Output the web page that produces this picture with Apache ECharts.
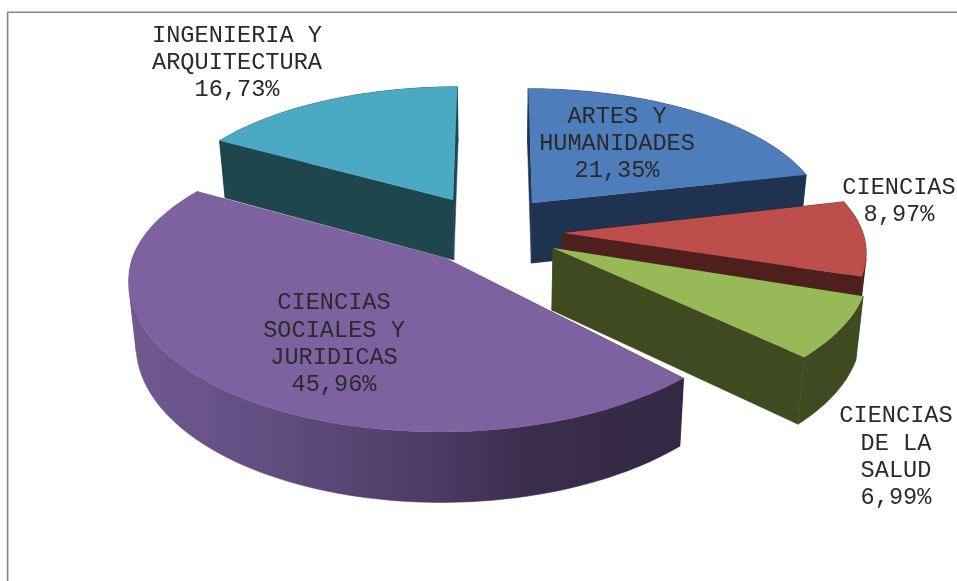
<!DOCTYPE html>
<html>
<head>
<meta charset="utf-8">
<style>html,body{margin:0;padding:0;background:#fff}#c{width:957px;height:581px}</style>
<script src="https://cdn.jsdelivr.net/npm/echarts@6/dist/echarts.min.js"></script>
</head>
<body>
<div id="c"></div>
<script>
// ----- data -----
const categories = ['ARTES Y\nHUMANIDADES', 'CIENCIAS', 'CIENCIAS\nDE LA\nSALUD', 'CIENCIAS\nSOCIALES Y\nJURIDICAS', 'INGENIERIA Y\nARQUITECTURA'];
const values = [21.35, 8.97, 6.99, 45.96, 16.73];

// ----- styles and layout of the exploded 3D pie -----
const topColors = ['#4d7ebb', '#bd4e4b', '#98b957', '#7e62a0', '#4aaac4'];
const wallColors = ['#1f324f', '#4f1f1d', '#3f4a20', null, '#1f454f'];
const purpleWall = [[0, '#70598f'], [0.3, '#5f4b7c'], [0.55, '#4c3b64'], [0.72, '#3a2d4d'], [1, '#322843']];
const apexes = [[532, 203], [563, 233], [553, 248], [447, 259], [453, 200]];
const radii = [290, 300, 312, 315, 287];
const tilts = [0.44, 0.45, 0.46, 0.48, 0.44];
const backTilt = 0.44;
const rotations = [0, -1, -0.3, 1.5, 0];
const layers = [2, 3, 4, 5, 1];
const labelAnchors = [[617, 144], [899, 201], [896, 457], [334, 344], [237, 63]];
const PERSPECTIVE = 2500, VANISH_X = 495;

const total = values.reduce((a, b) => a + b, 0);
const pct = v => v.toFixed(2).replace('.', ',') + '%';

function project(i, deg) {
  const t = (deg + rotations[i]) * Math.PI / 180, R = radii[i];
  const X = R * Math.sin(t), Y = -R * Math.cos(t);
  const s = 1 / (1 - Y / PERSPECTIVE);
  const k = Y < 0 ? Math.min(backTilt, tilts[i]) : tilts[i];
  return [apexes[i][0] + X * s + (apexes[i][0] - VANISH_X) * (s - 1), apexes[i][1] + Y * k * s];
}
function drop(p) {
  return [p[0] - (p[0] - VANISH_X) * 0.02, p[1] + 60 + (p[1] - 200) * 0.045];
}
// Cut the rim of a slice where it turns over, so that each piece is a simple polygon.
function rimPieces(arc) {
  const sign = k => {
    const a = arc[k], b = arc[k + 1], d = drop(a);
    return Math.sign((b[0] - a[0]) * (d[1] - a[1]) - (b[1] - a[1]) * (d[0] - a[0]));
  };
  const pieces = [];
  let from = 0;
  for (let k = 1; k < arc.length - 1; k++) {
    if (sign(k) !== sign(k - 1)) { pieces.push(arc.slice(from, k + 1)); from = k; }
  }
  pieces.push(arc.slice(from));
  return pieces.map(p => p.concat(p.map(drop).reverse()));
}

const series = {
  type: 'custom',
  coordinateSystem: 'none',
  silent: true,
  data: values.map((v, i) => ({ name: categories[i], value: [v] })),
  renderItem(params, api) {
    const i = params.dataIndex;
    const before = values.slice(0, i).reduce((a, b) => a + b, 0);
    const start = before / total * 360;
    const end = (before + api.value(0)) / total * 360;
    const arc = [];
    const steps = Math.max(8, Math.round((end - start) / 1.5));
    for (let k = 0; k <= steps; k++) arc.push(project(i, start + (end - start) * k / steps));
    const apex = apexes[i].slice();
    const z2 = layers[i] * 10;
    const wallFill = wallColors[i] || {
      type: 'linear', x: 128, y: 0, x2: 683, y2: 0, global: true,
      colorStops: purpleWall.map(s => ({ offset: s[0], color: s[1] }))
    };
    const wall = pts => ({
      type: 'polygon', z2,
      shape: { points: pts },
      style: { fill: wallFill, stroke: wallFill, lineWidth: 0.5 }
    });
    const first = arc[0], last = arc[arc.length - 1];
    const children = [
      wall([apex, first, drop(first), drop(apex)]),
      wall([apex, last, drop(last), drop(apex)])
    ].concat(rimPieces(arc).map(wall));
    children.push(
      { type: 'polygon', z2: z2 + 1, shape: { points: [apex].concat(arc) }, style: { fill: topColors[i] } },
      {
        type: 'text', z2: 100, x: labelAnchors[i][0], y: labelAnchors[i][1],
        style: {
          text: categories[i] + '\n' + pct(api.value(0)),
          fill: '#2a2a2a',
          fontFamily: '"Courier New","Liberation Mono",monospace',
          fontSize: 23.6,
          lineHeight: 27.2,
          align: 'center',
          verticalAlign: 'middle'
        }
      }
    );
    return { type: 'group', children };
  }
};

const chart = echarts.init(document.getElementById('c'), null, { width: 957, height: 581 });
chart.setOption({
  animation: false,
  backgroundColor: '#ffffff',
  tooltip: { show: false },
  graphic: [{
    type: 'polyline',
    silent: true,
    shape: { points: [[7.6, 581], [7.6, 12.3], [957, 12.3]] },
    style: { fill: null, stroke: '#868686', lineWidth: 1.6 }
  }],
  series: [series]
});
</script>
</body>
</html>
